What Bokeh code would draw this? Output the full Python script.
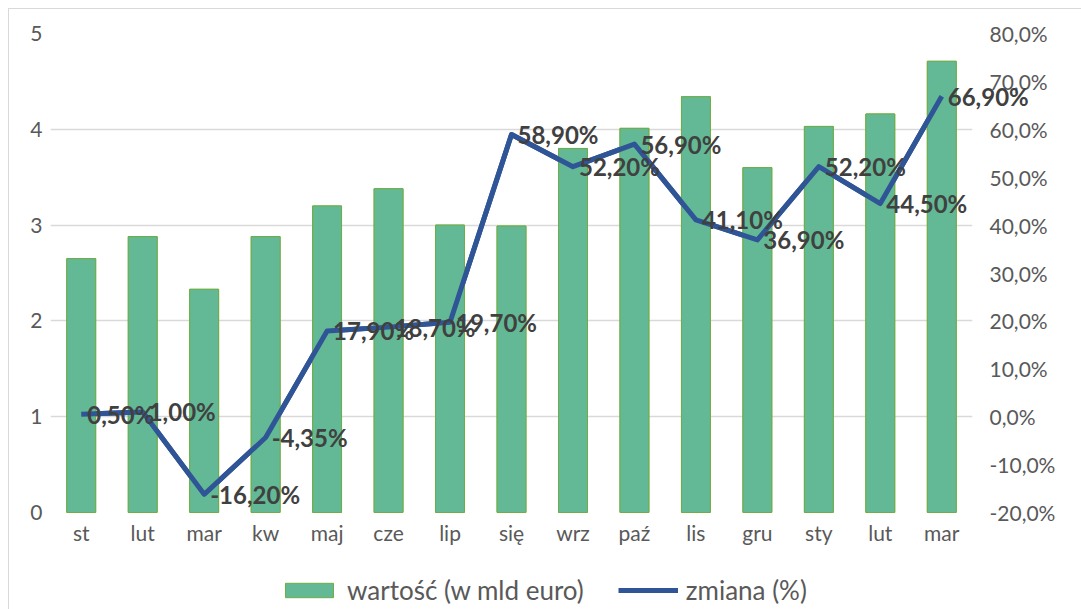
from bokeh.plotting import figure
from bokeh.models import (Range1d, LinearAxis, FixedTicker, CustomJSTickFormatter,
                          Legend, LegendItem, ColumnDataSource)
from bokeh.core.properties import value
from bokeh.embed import file_html
from bokeh.resources import INLINE

months = ["st", "lut", "mar", "kw", "maj", "cze", "lip", "się", "wrz", "paź",
          "lis", "gru", "sty", "lut", "mar"]
wartosc = [2.65, 2.88, 2.33, 2.88, 3.20, 3.38, 3.00, 2.99, 3.80, 4.01,
           4.34, 3.60, 4.03, 4.16, 4.71]
zmiana = [0.50, 1.00, -16.20, -4.35, 17.90, 18.70, 19.70, 58.90, 52.20, 56.90,
          41.10, 36.90, 52.20, 44.50, 66.90]
left_ticks = [0, 1, 2, 3, 4, 5]
right_ticks = [-20, -10, 0, 10, 20, 30, 40, 50, 60, 70, 80]
series_names = ["wartość (w mld euro)", "zmiana (%)"]

FONT = "Lato"
GRAY = "#595959"
BAR_FILL, BAR_LINE, LINE_COLOR = "#63B995", "#70AD47", "#2F5597"

# layout (pixels)
FW, FH = 922, 479
BL, BT, BR, BB = 41, 24, 109, 97
X0, X1 = -0.5, len(months) - 0.5
P0, P1 = -20, 80

x = list(range(len(months)))
labels = [f"{v:.2f}".replace(".", ",") + "%" for v in zmiana]
src = ColumnDataSource(dict(x=x, wartosc=wartosc, zmiana=zmiana, lab=labels))

p = figure(frame_width=FW, frame_height=FH, output_backend="svg", toolbar_location=None,
           x_range=Range1d(X0, X1), y_range=Range1d(0, 5),
           min_border_left=BL, min_border_top=BT, min_border_right=BR,
           min_border_bottom=BB)
p.styles = {"margin-left": "8px", "margin-top": "8px",
            "border-left": "1px solid #D9D9D9", "border-top": "1px solid #D9D9D9"}
p.outline_line_color = None
p.background_fill_color = "white"
p.border_fill_color = "white"

p.extra_y_ranges = {"pct": Range1d(P0, P1)}

p.vbar(x="x", top="wartosc", width=0.47, source=src,
       fill_color=BAR_FILL, line_color=BAR_LINE, line_width=1)
p.line(x="x", y="zmiana", source=src, y_range_name="pct",
       line_color=LINE_COLOR, line_width=5, line_join="round")

# axes
p.xaxis.ticker = FixedTicker(ticks=x)
p.xaxis.major_label_overrides = {i: m for i, m in enumerate(months)}
p.yaxis.ticker = FixedTicker(ticks=left_ticks)

ax_r = LinearAxis(y_range_name="pct", ticker=FixedTicker(ticks=right_ticks),
                  formatter=CustomJSTickFormatter(
                      code="return tick.toFixed(1).replace('.', ',') + '%';"))
p.add_layout(ax_r, "right")

for ax in p.axis:
    ax.axis_line_color = None
    ax.major_tick_line_color = None
    ax.minor_tick_line_color = None
    ax.major_label_text_font = FONT
    ax.major_label_text_font_size = "21px"
    ax.major_label_text_color = GRAY
p.xaxis.major_label_standoff = 1
p.yaxis.major_label_standoff = 2
ax_r.major_label_standoff = 11

p.xgrid.grid_line_color = None
p.ygrid.ticker = FixedTicker(ticks=left_ticks)
p.ygrid.grid_line_color = "#D9D9D9"
p.ygrid.grid_line_width = 1.5

# transparent overlay with the same data mapping, so labels and the legend
# may run past the plot frame
kx = FW / (X1 - X0)
ky = FH / (P1 - P0)
kv = FH / 5
W, H = BL + FW + BR, BT + FH + BB
q = figure(width=W, height=H, output_backend="svg", toolbar_location=None,
           x_range=Range1d(X0 - BL / kx, X1 + BR / kx),
           y_range=Range1d(P0 - BB / ky, P1 + BT / ky),
           x_axis_location=None, y_axis_location=None, min_border=0)
q.extra_y_ranges = {"val": Range1d(0 - BB / kv, 5 + BT / kv)}
q.styles = {"position": "absolute", "left": "9px", "top": "9px"}
q.outline_line_color = None
q.background_fill_color = None
q.border_fill_color = None
q.grid.visible = False

bars = q.vbar(x="x", top="wartosc", width=0.47, source=src, y_range_name="val",
              fill_color=BAR_FILL, line_color=BAR_LINE, line_width=1)
line = q.line(x="x", y="zmiana", source=src,
              line_color=LINE_COLOR, line_width=5, line_join="round")
q.text(x="x", y="zmiana", text="lab", source=src,
       x_offset=6, text_baseline="middle", text_align="left",
       text_font=value(FONT), text_font_style="bold", text_font_size="24px",
       text_color="#404040")

legend = Legend(items=[LegendItem(label=series_names[0], renderers=[bars]),
                       LegendItem(label=series_names[1], renderers=[line])],
                orientation="horizontal", location=(270, 3),
                label_text_font=FONT, label_text_font_size="26px",
                label_text_color=GRAY, glyph_width=60, glyph_height=18,
                label_standoff=8, spacing=34, border_line_color=None,
                background_fill_alpha=0, margin=0, padding=2)
q.add_layout(legend, "center")

open("out.html", "w").write(file_html([p, q], INLINE))
